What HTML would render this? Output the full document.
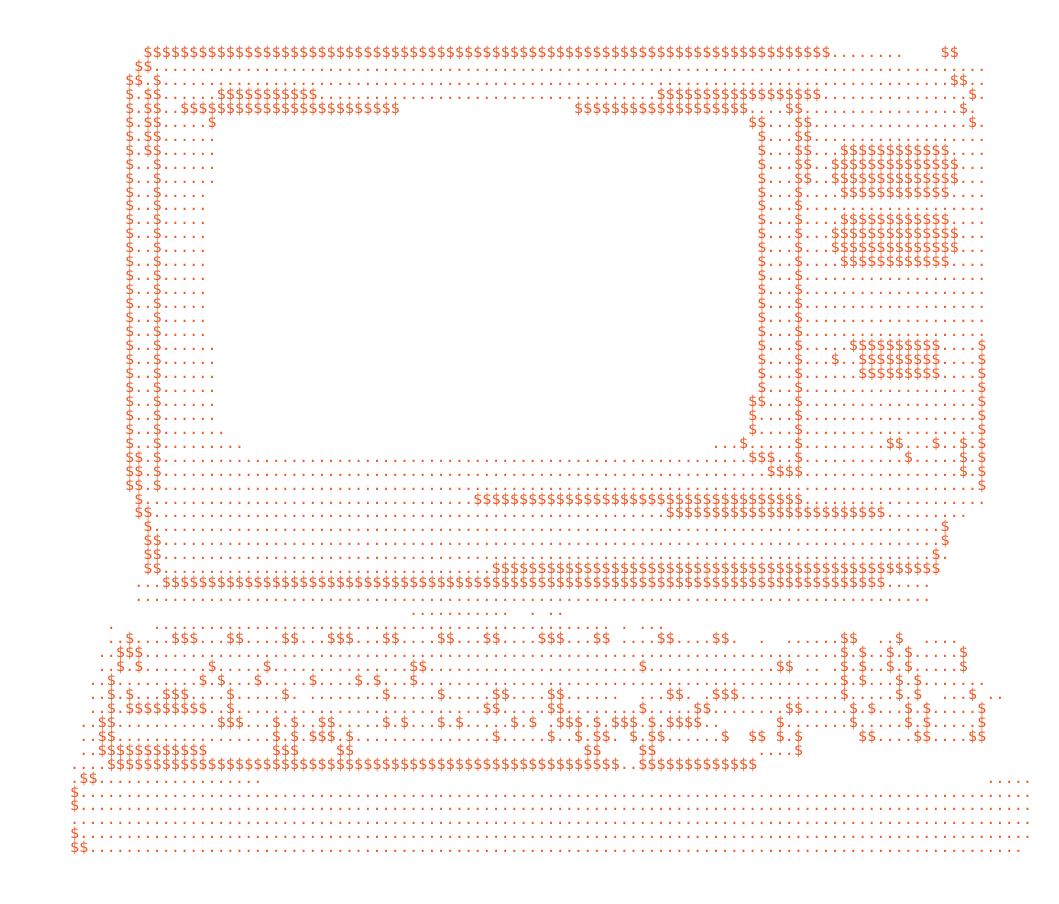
<!DOCTYPE html>
<html><head><meta charset="utf-8"><style>
html,body{margin:0;padding:0;background:#fff;width:1059px;height:904px;overflow:hidden}
pre{position:absolute;left:70px;top:46px;margin:0;font-family:"DejaVu Sans Mono","Liberation Mono",monospace;font-size:15.23px;line-height:13.95px;color:#f05a28;white-space:pre}
</style></head><body><pre>        $$$$$$$$$$$$$$$$$$$$$$$$$$$$$$$$$$$$$$$$$$$$$$$$$$$$$$$$$$$$$$$$$$$$$$$$$$$........    $$
       $$...........................................................................................
      $$.$......................................................................................$$..
      $.$$......$$$$$$$$$$$.....................................$$$$$$$$$$$$$$$$$$................$.
      $.$$..$$$$$$$$$$$$$$$$$$$$$$$$                   $$$$$$$$$$$$$$$$$$$....$$.................$.
      $.$$.....$                                                          $$...$$.................$.
      $.$$......                                                           $...$$...................
      $.$$......                                                           $...$$...$$$$$$$$$$$$....
      $..$......                                                           $...$$..$$$$$$$$$$$$$$...
      $..$......                                                           $...$$..$$$$$$$$$$$$$$...
      $..$.....                                                            $...$....$$$$$$$$$$$$....
      $..$.....                                                            $...$....................
      $..$.....                                                            $...$....$$$$$$$$$$$$....
      $..$.....                                                            $...$...$$$$$$$$$$$$$$...
      $..$.....                                                            $...$...$$$$$$$$$$$$$$...
      $..$.....                                                            $...$....$$$$$$$$$$$$....
      $..$.....                                                            $...$....................
      $..$.....                                                            $...$....................
      $..$.....                                                            $...$....................
      $..$.....                                                            $...$....................
      $..$.....                                                            $...$....................
      $..$......                                                           $...$.....$$$$$$$$$$....$
      $..$......                                                           $...$...$..$$$$$$$$$....$
      $..$......                                                           $...$......$$$$$$$$$....$
      $..$......                                                           $...$...................$
      $..$......                                                          $$...$...................$
      $..$......                                                          $....$...................$
      $..$.......                                                         $....$...................$
      $..$.........                                                   ...$.....$.........$$...$..$.$
      $$.$................................................................$$$..$...........$.....$.$
      $$.$..................................................................$$$$.................$.$
      $$.$.........................................................................................$
       $....................................$$$$$$$$$$$$$$$$$$$$$$$$$$$$$$$$$$$$....................
       $$........................................................$$$$$$$$$$$$$$$$$$$$$$$$.........
        $......................................................................................$
        $$.....................................................................................$
        $$....................................................................................$.
        $$....................................$$$$$$$$$$$$$$$$$$$$$$$$$$$$$$$$$$$$$$$$$$$$$$$$$
       ...$$$$$$$$$$$$$$$$$$$$$$$$$$$$$$$$$$$$$$$$$$$$$$$$$$$$$$$$$$$$$$$$$$$$$$$$$$$$$$$.....
       .......................................................................................
                                     ...........  . ..
    .    .................................................. . ...
    ..$....$$$...$$....$$...$$$...$$....$$...$$....$$$...$$ ....$$....$$.  .  ......$$  ..$  ....
   ..$$$............................................................................$.$..$.$.....$
   ..$.$.......$.....$...............$$.......................$..............$$ .. .$.$..$.$.....$
  ..$.........$.$...$.....$....$.$...$..............................................$.$...$.$.......
  ..$.$...$$$....$.....$. ........$.....$.....$$....$$......  ...$$. .$$$...........$.....$.$  ...$ ..
  ..$.$$$$$$$$$..$...........................$$.....$$........$.....$$........$$.....$.$...$.$.....$
 ..$$...........$$$...$.$..$$.....$.$...$.$.....$.$ .$$$.$.$$$.$.$$$$..      $.......$.....$.$.....$
 ..$$.................$.$.$$$.$...............$.....$..$.$$. $.$$......$  $$ $.$      $$....$$....$$
 ..$$$$$$$$$$$$       $$$    $$                         $$    $$           ....$
....$$$$$$$$$$$$$$$$$$$$$$$$$$$$$$$$$$$$$$$$$$$$$$$$$$$$$$$$..$$$$$$$$$$$$$
.$$..................                                                                               .....
$........................................................................................................
$........................................................................................................
.........................................................................................................
$........................................................................................................
$$......................................................................................................
</pre></body></html>
